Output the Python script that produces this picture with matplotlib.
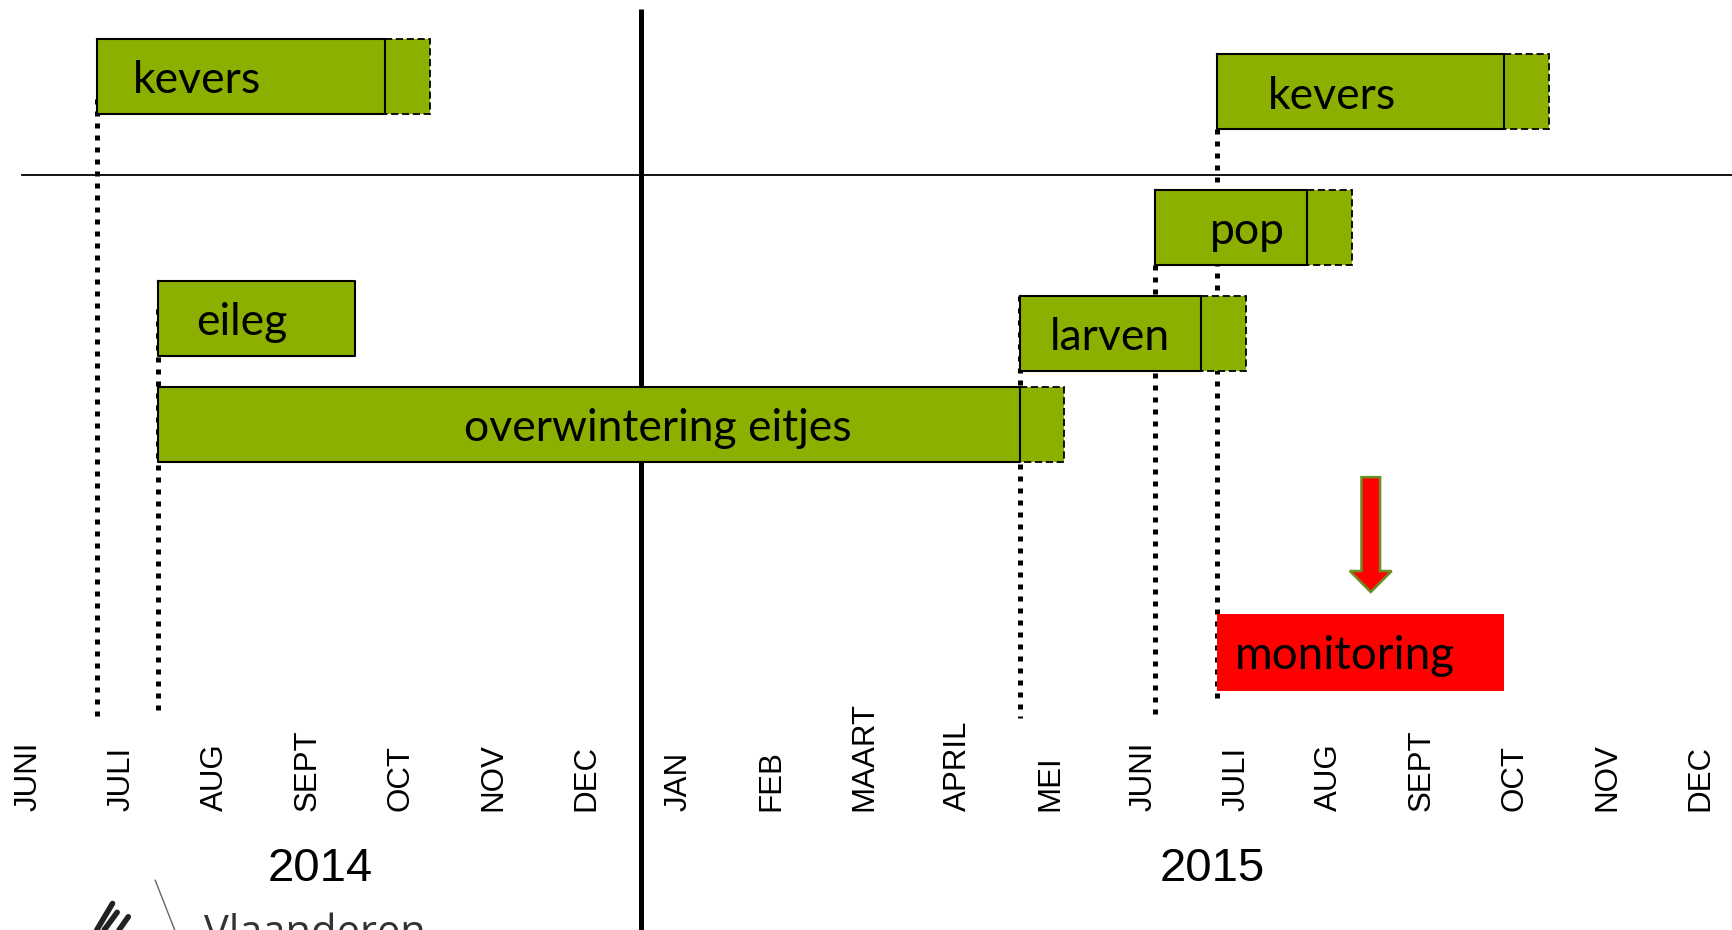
import matplotlib
matplotlib.use("Agg")
import matplotlib.pyplot as plt
from matplotlib.patches import Rectangle, FancyArrow

# maanden: index 0 = JUNI 2014 ... 18 = DEC 2015
maanden = ["JUNI", "JULI", "AUG", "SEPT", "OCT", "NOV", "DEC",
           "JAN", "FEB", "MAART", "APRIL", "MEI", "JUNI", "JULI",
           "AUG", "SEPT", "OCT", "NOV", "DEC"]
jaren = ["2014", "2015"]
jaar_pos = [3.19, 12.79]

# stadia: naam, start, einde (vast), einde (onzeker), rij boven, rij onder, label x
stadia = ["kevers", "eileg", "overwintering eitjes", "larven", "pop", "kevers"]
start = [0.785, 1.44, 1.44, 10.72, 12.18, 12.84]
einde = [3.88, 3.56, 10.72, 12.67, 13.81, 15.93]
einde_onzeker = [4.37, None, 11.2, 13.16, 14.3, 16.42]
boven = [35, 254, 350, 268, 172, 49]
onder = [103, 322, 418, 336, 240, 117]
label_x = [1.86, 2.34, 6.82, 11.69, 13.17, 14.08]

# stippellijnen: x, van, tot
stip_x = [0.785, 1.44, 10.72, 12.18, 12.84]
stip_van = [90, 280, 268, 240, 117]
stip_tot = [648, 645, 650, 647, 636]

monitoring = (12.84, 15.93, 556, 626)
pijl_x = 14.5
pijl_van, pijl_tot = 432, 536

groen = "#8cb000"
rood = "#ff0000"

fig = plt.figure(figsize=(17.32, 9.30), dpi=100)
ax = fig.add_axes([0, 0, 1, 1])
ax.set_xlim(-0.2617, 18.39)
ax.set_ylim(842, 0)
ax.axis("off")

# jaarscheiding en horizontale lijn
ax.plot([6.638, 6.638], [8, 842], color="black", lw=3.6, zorder=1, solid_capstyle="butt")
ax.plot([-0.024, 18.39], [158, 158], color="black", lw=1.3, zorder=1)

for x, y0, y1 in zip(stip_x, stip_van, stip_tot):
    ax.plot([x, x], [y0, y1], color="black", lw=3.6, ls=(0, (1, 1.4)), zorder=2)

lab_font = ["Lato", "DejaVu Sans"]
for naam, s, e, eo, y0, y1, lx in zip(stadia, start, einde, einde_onzeker, boven, onder, label_x):
    h = y1 - y0
    ax.add_patch(Rectangle((s, y0), e - s, h, facecolor=groen, edgecolor="none", zorder=3))
    ax.plot([s, e, e, s, s], [y0, y0, y1, y1, y0], color="black", lw=1.5, zorder=4)
    if eo is not None:
        ax.add_patch(Rectangle((e, y0), eo - e, h, facecolor=groen, edgecolor="black",
                               lw=1.3, ls=(0, (4, 2)), zorder=3))
    ax.text(lx, (y0 + y1) / 2 + 4, naam, fontsize=32, family=lab_font,
            ha="center", va="center", color="black", zorder=5)

ms, me, my0, my1 = monitoring
ax.add_patch(Rectangle((ms, my0), me - ms, my1 - my0, facecolor=rood, edgecolor="none", zorder=3))
ax.text(14.22, (my0 + my1) / 2 + 3, "monitoring", fontsize=33, family=lab_font,
        ha="center", va="center", color="black", zorder=5)

ax.add_patch(FancyArrow(pijl_x, pijl_van, 0, pijl_tot - pijl_van, width=0.2, head_width=0.45,
                        head_length=19, length_includes_head=True, facecolor=rood,
                        edgecolor="#6b8e23", lw=1.8, zorder=5))

for i, m in enumerate(maanden):
    ax.text(i + 0.05, 734, m, rotation=90, ha="center", va="bottom", fontsize=22.5,
            family="Liberation Sans", color="black")

for j, p in zip(jaren, jaar_pos):
    ax.text(p, 787, j, ha="center", va="center", fontsize=34,
            family="Liberation Sans", color="black")

# logo (afgesneden onderaan)
ax.plot([1.41, 1.62], [797, 842], color="#666666", lw=1)
for x0, y0, x1, y1 in [(0.78, 842, 0.95, 818), (0.86, 842, 1.0, 826), (1.02, 842, 1.12, 830)]:
    ax.plot([x0, x1], [y0, y1], color="#222222", lw=4, solid_capstyle="round")
ax.text(1.94, 827, "Vlaanderen", ha="left", va="top", fontsize=30,
        family="Open Sans", color="#333333", clip_on=False)

fig.savefig("out.png", dpi=100)
